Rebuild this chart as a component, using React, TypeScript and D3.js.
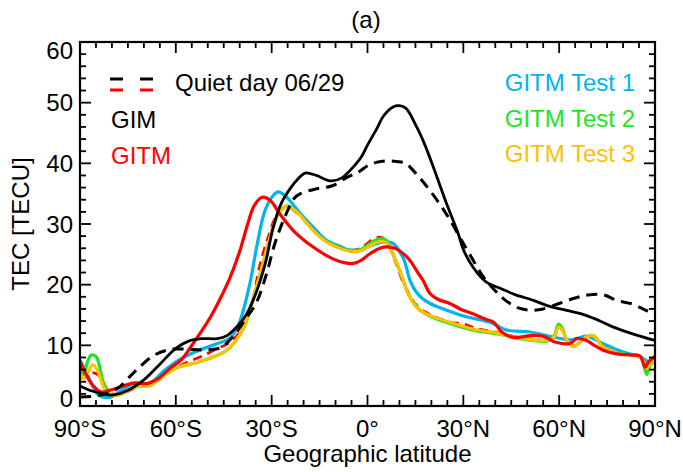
import React from "react";
import * as d3 from "d3";

const xTicks = [-90, -60, -30, 0, 30, 60, 90];
const xTickLabels = ["90°S", "60°S", "30°S", "0°", "30°N", "60°N", "90°N"];
const yTicks = [0, 10, 20, 30, 40, 50, 60];

const gimLat = [-90,-87,-84,-80,-75,-70,-65,-60,-56,-52,-47,-44,-41,-38,-35,-32,-29.5,-27,-24,-22,-19.5,-16,-11.5,-8,-5.5,-2,0,3,5,8,10,12,15.4,18,20.6,24.8,28.4,30,33,37,42,46,52,56,62,67,72,77,83,90];
const gimVal = [3.3,2.6,2.2,1.8,2.6,4.3,6.9,9.5,10.7,11.1,11.1,11.6,13,15,18.5,23.5,29.5,33.4,36,37.3,38.4,38,37.1,37.6,38.8,41,43,45.8,47.8,49.3,49.5,49.1,46,43,39.4,33.3,28.4,25.8,22.9,20.5,19.3,18.4,17.4,16.6,15.8,15.2,14.2,13,11.9,10.8];

const gimQLat = [-90,-86,-82,-78,-73,-67,-62,-58,-55,-50,-46,-42,-38,-35,-31.6,-29,-26,-23,-21,-16,-11,-6,-3,0,3,6,9,12,14,17,20,23,26,29,32,36,40,43,47,51,55,60,65,69,74,78,83,87,90];
const gimQVal = [1.5,1.6,2.0,3.0,5.6,8.3,9.3,9.4,9.3,9.3,9.6,11.5,14.5,16.8,21.8,26.8,31,34.2,35,35.8,36.3,37.8,38.5,39.6,40.2,40.4,40.3,40,39,37.2,35.2,33,30.5,27.7,25,21.5,19,17.5,16.2,15.8,16,16.9,17.8,18.3,18.3,17.4,16.8,15.8,15.2];

const gitmLat = [-90,-88.5,-86,-83.3,-80.7,-77,-73,-69,-65.6,-61.4,-58.3,-55,-52,-49,-46,-43,-40,-37.5,-35.5,-33,-30.5,-27.5,-23,-17,-11,-7,-4.4,-2,0,3,5,7,9,11,13.3,15.5,17.5,19.5,22,25.8,29,33,37,39.5,42,45.7,51,55,59,63.4,65.5,68.6,71,73.8,78,83,85.4,86.9,88,90];
const gitmVal = [7.3,5.6,3.4,2.3,2.6,3.2,3.8,3.7,4.5,6.4,7.6,10,12.3,14.8,17.8,21.2,25.5,30,33,34.4,33.9,31.7,28.8,26.2,24.3,23.6,23.5,24,24.8,25.8,26.2,26.2,25.9,25.2,24,22.2,20.6,18.6,17.6,16.9,16,15.2,14.3,13.8,12.2,11.3,11.6,11.5,10.5,10.3,11.1,10.8,10,9.2,8.6,8.4,8.2,6.4,7.3,8.2];

const gitmQLat = [-90,-88,-86,-84,-82,-80,-76,-72,-68,-63,-59,-56,-51,-47,-44,-41,-38,-36,-34,-31,-28,-25,-22,-17,-12.8,-9,-5.5,-2,0,2,4,6,7.5,9.2,11.2,13,15,18,21.6,26,30,34,41.5,48.8,56,58.2,59.8,61,62.4,64.5,67,68.6,70.7,73.8,79,84.3,85.9,87.4,88.5,90];
const gitmQVal = [6.5,5.5,5.5,5,3,2,2.2,3.2,3.5,5.3,6.6,7.3,8.4,9.5,10.2,11.5,14,17,22.5,28,31.8,32.8,31.8,29,27.2,26.4,25.7,26,26.8,27.6,27.8,27.2,25.5,23.2,20.3,18.5,16.8,15.5,14.6,13.8,13.5,12.8,12,11.2,10.9,11.3,13,12.5,10.9,9.9,10.8,11.4,11.6,9.8,8.7,8.4,7.9,6.3,7,7.5];

const test1Lat = [-90,-88,-86,-84.4,-80.7,-77,-73,-68,-63.5,-59.3,-54,-47,-43,-40.5,-38.5,-36.5,-34.7,-32.1,-29.5,-27.9,-25.3,-21,-16,-12.8,-9.6,-5.5,-2,0,3,5,8,10,11.5,13.3,15,17,19.6,24.8,31,38.4,43.6,51,57,63.4,66,68.6,71,74.9,80,85.4,87,88.5,90];
const test1Val = [7.6,5.5,3.3,1.9,1.4,2.6,3.7,3.8,5.9,7.5,8.9,10.3,11.2,13.2,16.5,21,26.2,32.2,34.7,35.3,34.4,31.7,28.9,27.3,26.5,25.7,25.8,26.2,26.8,27,26.8,25.5,24,20.7,19,17.8,16.9,15.8,14.7,13.8,12.5,12.2,11.5,10.9,11.2,11.5,11,10,8.9,8.1,7.6,7.2,7.6];

const test2Lat = [-90,-89,-87.5,-86.5,-84.9,-82.6,-80.2,-77,-73,-68,-63.5,-59.3,-53,-46.8,-44,-41.6,-38.4,-37,-33.6,-30.5,-27.9,-25.3,-22.2,-17,-12.8,-9.6,-5.5,-2,0,2,4,6,7.5,9.2,11.2,12.3,14,16,19.6,25.8,33.1,41.5,48.8,56.1,58.2,59.8,61,62.4,64.5,67,68.6,70.7,73.8,79,84.3,85.9,87.4,88.5,90];
const test2Val = [5.8,5.2,7.5,8.4,8.1,3.8,1.9,2,3.1,3.4,5.1,6.4,7.2,8.4,9.2,10.5,13.3,15.5,21.8,27.8,31.7,33,32.1,29,27.1,26.3,25.6,25.8,26.5,27.2,27.6,27.3,25.6,23.5,20.7,19,17.3,16,14.8,13.6,12.5,11.8,11,10.7,11.3,13.5,12.8,10.8,9.8,10.8,11.4,11.6,9.7,8.6,8.3,7.7,5.2,6.8,7.5];

const test3Lat = [-90,-89,-87.5,-86,-84.5,-82.3,-80.2,-77,-73,-68,-63.5,-59.3,-53,-46.8,-44,-41.6,-38.4,-37,-33.6,-30.5,-27.9,-25.3,-22.2,-17,-12.8,-9.6,-5.5,-2,0,2,4,6,7.5,9.2,11.2,12.3,14,16,19.6,25.8,33.1,41.5,48.8,56.1,58.2,59.8,61,62.4,64.5,67,68.6,70.7,73.8,79,84.3,85.9,87.4,88.5,90];
const test3Val = [5.3,4.5,5.5,6.8,5.8,2.8,1.8,2,3.1,3.4,5.1,6.4,7.2,8.4,9.2,10.5,13.3,15.5,21.8,27.8,31.7,32.9,32,28.9,27,26.2,25.5,25.6,26.2,26.8,27.1,26.9,25.5,23.5,20.7,19,17.3,16,14.9,13.8,12.7,11.9,11.1,10.8,11.2,13,12.5,10.8,9.8,10.8,11.4,11.6,9.7,8.6,8.3,7.8,6.2,7,7.5];

const W = 683, H = 472;
const L = 80, R = 655, T = 42, B = 406;
const FONT = "'Liberation Sans', Arial, Helvetica, sans-serif";

type S = { lat: number[]; val: number[]; color: string; width: number; dash?: string };

const series: S[] = [
  { lat: gitmQLat, val: gitmQVal, color: "#FF0000", width: 2.8, dash: "9,6" },
  { lat: test1Lat, val: test1Val, color: "#00B4F0", width: 3.2 },
  { lat: test2Lat, val: test2Val, color: "#1EE61E", width: 3.2 },
  { lat: test3Lat, val: test3Val, color: "#FFC000", width: 3.2 },
  { lat: gitmLat, val: gitmVal, color: "#FF0000", width: 3.2 },
  { lat: gimQLat, val: gimQVal, color: "#000000", width: 3, dash: "11,7" },
  { lat: gimLat, val: gimVal, color: "#000000", width: 2.8 },
];

export default function App() {
  const x = d3.scaleLinear().domain([-90, 90]).range([L, R]);
  const y = d3.scaleLinear().domain([0, 60]).range([B, T]);
  const line = d3
    .line<[number, number]>()
    .x((d) => x(d[0]))
    .y((d) => y(d[1]))
    .curve(d3.curveCatmullRom.alpha(0.5));

  const xMinor = d3.range(-90, 90.1, 5);
  const yMinor = d3.range(0, 60.1, 2);
  const yLabelOffset = (v: number) => (v === 60 ? 8 : v === 0 ? -8 : 0);

  return (
    <svg width={W} height={H} style={{ position: "absolute", left: 0, top: 0, background: "#fff" }} fontFamily={FONT}>
      <rect x={0} y={0} width={W} height={H} fill="#fff" />
      <defs>
        <clipPath id="plot">
          <rect x={L} y={T} width={R - L} height={B - T} />
        </clipPath>
      </defs>
      <g clipPath="url(#plot)">
        {series.map((s, i) => (
          <path
            key={i}
            d={line(s.lat.map((la, j) => [la, s.val[j]] as [number, number])) || ""}
            fill="none"
            stroke={s.color}
            strokeWidth={s.width}
            strokeDasharray={s.dash}
            strokeLinejoin="round"
          />
        ))}
      </g>
      <g stroke="#000" strokeWidth={1.8}>
        {xMinor.map((v) => {
          const major = v % 30 === 0;
          const len = major ? 11 : 6;
          return (
            <g key={"x" + v}>
              <line x1={x(v)} x2={x(v)} y1={B} y2={B - len} />
              <line x1={x(v)} x2={x(v)} y1={T} y2={T + len} />
            </g>
          );
        })}
        {yMinor.map((v) => {
          const major = v % 10 === 0;
          const len = major ? 11 : 6;
          return (
            <g key={"y" + v}>
              <line x1={L} x2={L + len} y1={y(v)} y2={y(v)} />
              <line x1={R} x2={R - len} y1={y(v)} y2={y(v)} />
            </g>
          );
        })}
      </g>
      <rect x={L} y={T} width={R - L} height={B - T} fill="none" stroke="#000" strokeWidth={2.2} />
      {xTicks.map((v, i) => (
        <text key={"xl" + v} x={x(v)} y={437} textAnchor="middle" fontSize={24} fill="#000">
          {xTickLabels[i]}
        </text>
      ))}
      {yTicks.map((v) => (
        <text key={"yl" + v} x={73} y={y(v) + yLabelOffset(v)} textAnchor="end" dominantBaseline="central" fontSize={24} fill="#000">
          {v}
        </text>
      ))}
      <text x={(L + R) / 2} y={462} textAnchor="middle" fontSize={24} fill="#000">
        Geographic latitude
      </text>
      <text transform={`translate(29,${(T + B) / 2}) rotate(-90)`} textAnchor="middle" fontSize={24} fill="#000">
        TEC [TECU]
      </text>
      <text x={366} y={28} textAnchor="middle" fontSize={24} fill="#000">
        (a)
      </text>
      <g strokeWidth={3}>
        <line x1={110} x2={157} y1={79} y2={79} stroke="#000" strokeDasharray="13,17" />
        <line x1={110} x2={157} y1={90} y2={90} stroke="#FF0000" strokeDasharray="13,17" />
      </g>
      <text x={175} y={91} fontSize={24} fill="#000">Quiet day 06/29</text>
      <text x={111} y={128} fontSize={24} fill="#000">GIM</text>
      <text x={111} y={164} fontSize={24} fill="#FF0000">GITM</text>
      <text x={635} y={91} textAnchor="end" fontSize={24} fill="#00B4F0">GITM Test 1</text>
      <text x={635} y={127} textAnchor="end" fontSize={24} fill="#1EE61E">GITM Test 2</text>
      <text x={635} y={162} textAnchor="end" fontSize={24} fill="#FFC000">GITM Test 3</text>
    </svg>
  );
}
